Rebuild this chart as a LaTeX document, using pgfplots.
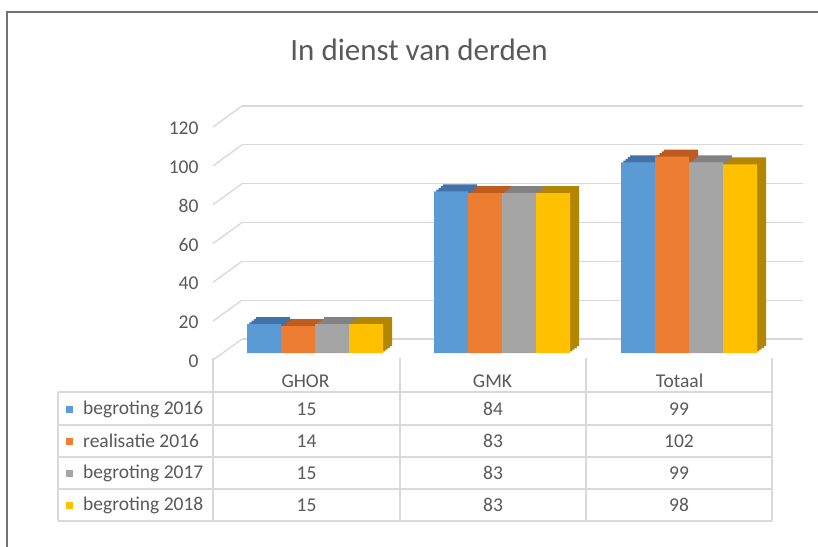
\documentclass[border=0pt]{standalone}
\usepackage{fontspec}
\setmainfont{Carlito}
\usepackage{pgfplots}
\pgfplotsset{compat=1.18}
\definecolor{cblue}{HTML}{5B9BD5}
\definecolor{corange}{HTML}{ED7D31}
\definecolor{cgray}{HTML}{A5A5A5}
\definecolor{cyellow}{HTML}{FFC000}
\definecolor{dblue}{HTML}{4272A8}
\definecolor{dorange}{HTML}{BE5C1E}
\definecolor{dgray}{HTML}{828282}
\definecolor{dyellow}{HTML}{B38600}
\definecolor{textgray}{HTML}{595959}
\definecolor{gridgray}{HTML}{D9D9D9}
\definecolor{framegray}{HTML}{727272}
\newcommand{\threedbar}[4]{%
  \addplot[ybar, bar width=34pt, bar shift=#1, fill=#2, draw=none, xshift=2.25pt, yshift=1.75pt] coordinates {#4};
  \addplot[ybar, bar width=34pt, bar shift=#1, fill=#2, draw=none, xshift=4.5pt, yshift=3.5pt] coordinates {#4};
  \addplot[ybar, bar width=34pt, bar shift=#1, fill=#2, draw=none, xshift=6.75pt, yshift=5.25pt] coordinates {#4};
  \addplot[ybar, bar width=34pt, bar shift=#1, fill=#2, draw=none, xshift=9pt, yshift=7pt] coordinates {#4};
  \addplot[ybar, bar width=34pt, bar shift=#1, fill=#3, draw=none] coordinates {#4};
}
\begin{document}
\begin{tikzpicture}
\path[use as bounding box] (0,0) rectangle (818pt,546pt);
\begin{scope}
\clip (0,0) rectangle (818pt,546pt);
\fill[white] (0,0) rectangle (818pt,546pt);
\draw[framegray, line width=2.5pt] (7pt,-10pt) -- (7pt,534pt) -- (830pt,534pt);
\end{scope}
\node[font=\fontsize{31}{36}\selectfont, text=textgray, anchor=base] at (419pt,485pt) {In dienst van derden};
% back wall grid
\begin{axis}[at={(242pt,207pt)}, anchor=south west, scale only axis,
  width=561pt, height=233pt, xmin=0, xmax=1, ymin=0, ymax=120,
  xtick=\empty, ytick={0,20,40,60,80,100,120},
  ymajorgrids, grid style={draw=gridgray, line width=1.3pt},
  axis line style={draw=none}, major tick length=0pt,
  tick label style={font=\fontsize{19.5}{22}\selectfont, text=textgray},
  yticklabel style={xshift=-40pt, yshift=-22pt},
  /pgf/number format/assume math mode=true, clip=false]
\addplot[draw=none] coordinates {(0,0) (1,120)};
\pgfplotsinvokeforeach{0,20,40,60,80,100,120}{\draw[gridgray, line width=1.3pt] (axis cs:0,#1) -- ++(-29pt,-21pt);}
\end{axis}
% bars
\begin{axis}[at={(221.5pt,193pt)}, anchor=south west, scale only axis,
  width=561pt, height=231pt, xmin=-0.5, xmax=2.5, ymin=0, ymax=120,
  axis line style={draw=none}, major tick length=0pt,
  ytick=\empty, xtick={0,1,2}, xticklabels={GHOR,GMK,Totaal},
  xticklabel style={anchor=center, xshift=-9.5pt, yshift=-28pt,
    font=\fontsize{19.5}{22}\selectfont, text=textgray},
  clip=false]
\threedbar{-51pt}{dblue}{cblue}{(0,15) (1,84) (2,99)}
\threedbar{-17pt}{dorange}{corange}{(0,14) (1,83) (2,102)}
\threedbar{17pt}{dgray}{cgray}{(0,15) (1,83) (2,99)}
\threedbar{51pt}{dyellow}{cyellow}{(0,15) (1,83) (2,98)}
\end{axis}
% data table
\draw[gridgray, line width=1.2pt]
  (58pt,154pt) -- (772pt,154pt)
  (58pt,121pt) -- (772pt,121pt)
  (58pt,89pt) -- (772pt,89pt)
  (58pt,57pt) -- (772pt,57pt)
  (58pt,25pt) -- (772pt,25pt)
  (58pt,154pt) -- (58pt,25pt)
  (213pt,188pt) -- (213pt,25pt)
  (400pt,188pt) -- (400pt,25pt)
  (586pt,188pt) -- (586pt,25pt)
  (772pt,188pt) -- (772pt,25pt);
\begin{scope}[every node/.style={font=\fontsize{19.5}{22}\selectfont, text=textgray, inner sep=0pt}]
\fill[cblue] (65.5pt,133.5pt) rectangle (72.5pt,140.5pt);
\fill[corange] (65.5pt,101.5pt) rectangle (72.5pt,108.5pt);
\fill[cgray] (65.5pt,69.5pt) rectangle (72.5pt,76.5pt);
\fill[cyellow] (65.5pt,37.5pt) rectangle (72.5pt,44.5pt);
\node[anchor=west] at (83pt,137pt) {begroting 2016};
\node[anchor=west] at (83pt,105pt) {realisatie 2016};
\node[anchor=west] at (83pt,73pt) {begroting 2017};
\node[anchor=west] at (83pt,41pt) {begroting 2018};
\node at (306.5pt,137pt) {15};
\node at (493pt,137pt) {84};
\node at (679pt,137pt) {99};
\node at (306.5pt,105pt) {14};
\node at (493pt,105pt) {83};
\node at (679pt,105pt) {102};
\node at (306.5pt,73pt) {15};
\node at (493pt,73pt) {83};
\node at (679pt,73pt) {99};
\node at (306.5pt,41pt) {15};
\node at (493pt,41pt) {83};
\node at (679pt,41pt) {98};
\end{scope}
\end{tikzpicture}
\end{document}
